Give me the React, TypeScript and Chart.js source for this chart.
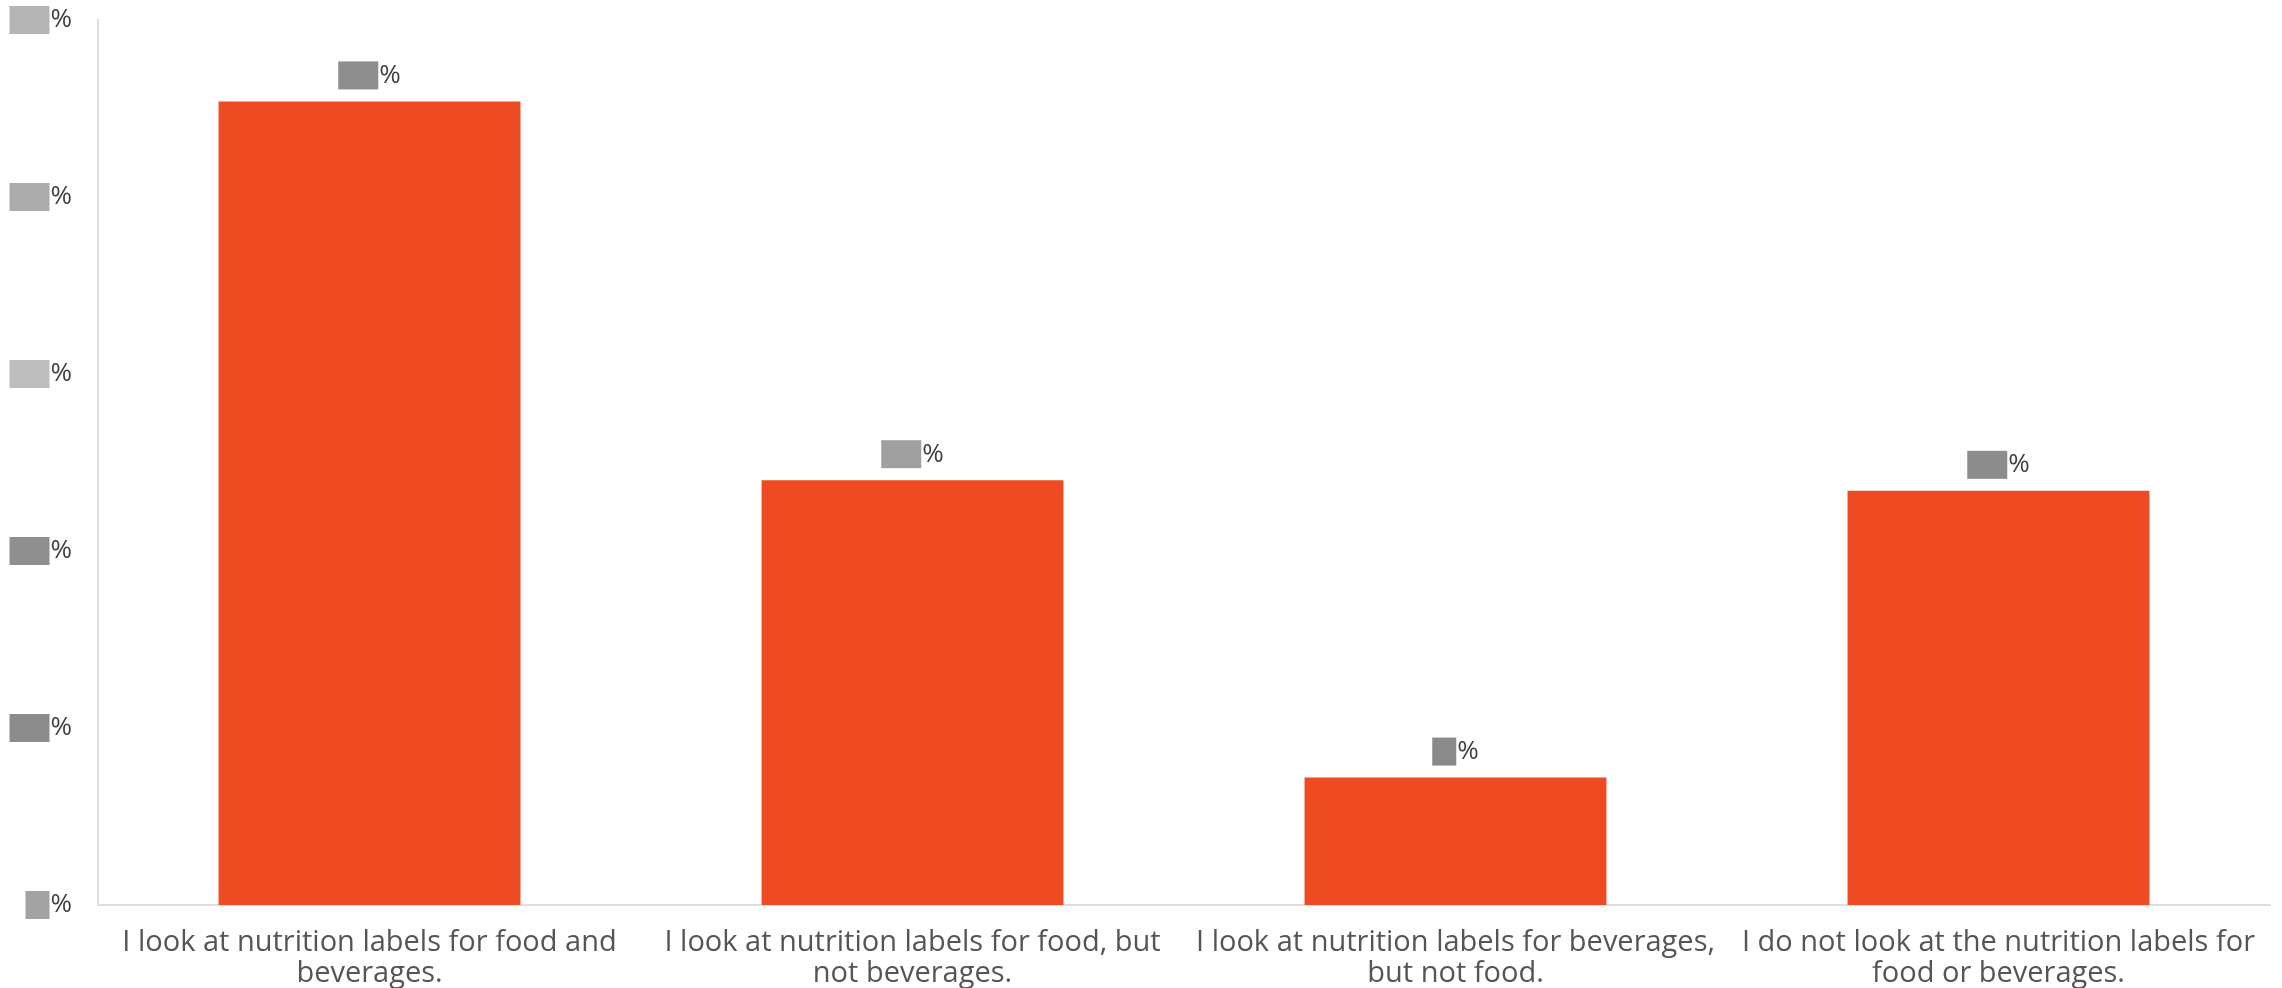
import React, { useEffect, useRef } from 'react';
import { Chart, registerables } from 'chart.js';

Chart.register(...registerables);

// ---- data ----
const categories: string[][] = [
  ['I look at nutrition labels for food and', 'beverages.'],
  ['I look at nutrition labels for food, but', 'not beverages.'],
  ['I look at nutrition labels for beverages,', 'but not food.'],
  ['I do not look at the nutrition labels for', 'food or beverages.'],
];
const values: number[] = [45.4, 24.0, 7.2, 23.4];
const yTickValues: number[] = [0, 10, 20, 30, 40, 50];
// redaction boxes drawn over the numbers (as in the reference)
const yTickMaskColors: string[] = ['#a3a3a3', '#8c8c8c', '#8f8f8f', '#bdbdbd', '#ababab', '#b4b4b4'];
const valueMaskColors: string[] = ['#8e8e8e', '#a0a0a0', '#8a8a8a', '#8c8c8c'];

const BAR_COLOR = '#EF4B23';
const AXIS_COLOR = '#dedede';
const LABEL_FONT = '"Open Sans", sans-serif';
const PCT_COLOR = '#404040';
const Y_PAD = 26;

const maskWidth = (v: number) => (String(Math.round(v)).length > 1 ? 40 : 24);

const yMaskPlugin = {
  id: 'yMask',
  afterDraw(chart: any) {
    const ys = chart.scales.y;
    const ctx = chart.ctx;
    ctx.save();
    ctx.font = `26px ${LABEL_FONT}`;
    const wp = ctx.measureText('%').width;
    ys.ticks.forEach((t: any) => {
      const idx = yTickValues.indexOf(t.value);
      const py = ys.getPixelForValue(t.value);
      const right = ys.right - Y_PAD - wp - 1;
      const bw = maskWidth(t.value);
      ctx.fillStyle = yTickMaskColors[idx >= 0 ? idx : 0];
      ctx.fillRect(right - bw, py - 14, bw, 28);
    });
    ctx.restore();
  },
};

const valueLabelPlugin = {
  id: 'valueLabels',
  afterDatasetsDraw(chart: any) {
    const ctx = chart.ctx;
    const meta = chart.getDatasetMeta(0);
    ctx.save();
    ctx.font = `26px ${LABEL_FONT}`;
    ctx.textBaseline = 'middle';
    ctx.textAlign = 'left';
    const wp = ctx.measureText('%').width;
    meta.data.forEach((el: any, i: number) => {
      const v = values[i];
      const bw = maskWidth(v);
      const total = bw + 1 + wp;
      const sx = el.x - total / 2;
      const bottom = el.y - 12;
      ctx.fillStyle = valueMaskColors[i];
      ctx.fillRect(sx, bottom - 28, bw, 28);
      ctx.fillStyle = PCT_COLOR;
      ctx.fillText('%', sx + bw + 1, bottom - 14);
    });
    ctx.restore();
  },
};

export default function App() {
  const canvasRef = useRef<HTMLCanvasElement | null>(null);

  useEffect(() => {
    if (!canvasRef.current) return;
    const chart = new Chart(canvasRef.current, {
      type: 'bar',
      data: {
        labels: categories,
        datasets: [
          {
            data: values,
            backgroundColor: BAR_COLOR,
            borderWidth: 0,
            barPercentage: 0.556,
            categoryPercentage: 1,
          },
        ],
      },
      options: {
        animation: false,
        responsive: true,
        maintainAspectRatio: false,
        layout: { padding: { top: 20, right: 12, left: 0, bottom: 0 } },
        plugins: {
          legend: { display: false },
          tooltip: { enabled: false },
        },
        scales: {
          x: {
            grid: { display: false, drawTicks: false },
            border: { display: true, color: AXIS_COLOR, width: 2 },
            ticks: {
              color: '#555555',
              font: { family: LABEL_FONT, size: 29, lineHeight: 1.05 },
              padding: 23,
              maxRotation: 0,
              autoSkip: false,
            },
            afterFit: (scale: any) => {
              scale.height = 83;
              scale.paddingLeft = 0;
              scale.paddingRight = 0;
            },
          },
          y: {
            min: 0,
            max: 50,
            grid: { display: false, drawTicks: false },
            border: { display: true, color: AXIS_COLOR, width: 2 },
            ticks: {
              stepSize: 10,
              color: PCT_COLOR,
              padding: Y_PAD,
              font: { family: LABEL_FONT, size: 26 },
              callback: () => '%',
            },
            afterFit: (scale: any) => {
              scale.width = 98;
              scale.paddingTop = 0;
              scale.paddingBottom = 0;
            },
          },
        },
      },
      plugins: [yMaskPlugin, valueLabelPlugin],
    });
    return () => chart.destroy();
  }, []);

  return (
    <div style={{ position: 'absolute', left: 0, top: 0, width: 2282, height: 988, background: '#ffffff' }}>
      <canvas ref={canvasRef} />
    </div>
  );
}
